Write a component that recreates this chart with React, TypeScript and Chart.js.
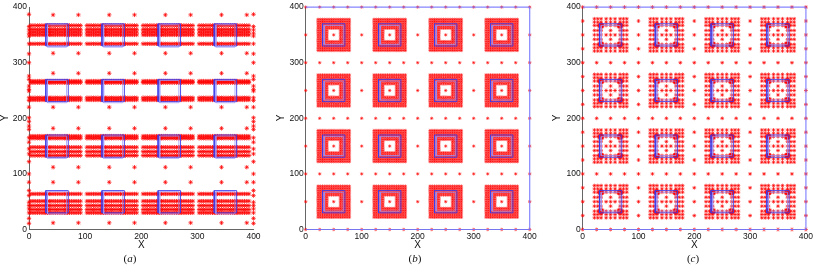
import React, { useEffect, useRef } from "react";
import { Chart, registerables } from "chart.js";
Chart.register(...registerables);

type P = { x: number; y: number };

// ---------- shared axis data ----------
const AXIS_TICKS = [0, 100, 200, 300, 400];
const CELL_ORIGINS = [0, 100, 200, 300];
const BORDER_LINES = [0, 100, 200, 300, 400];
const BORDER_STEP25 = [0, 25, 50, 75, 100, 125, 150, 175, 200, 225, 250, 275, 300, 325, 350, 375, 400];
const BORDER_STEP50 = [0, 50, 100, 150, 200, 250, 300, 350, 400];

// ---------- panel (a) mesh nodes (relative to each 100x100 cell) ----------
const A_DENSE_X = [3, 7, 11, 15, 19, 23, 27, 30, 33, 36, 39, 43, 47, 51, 55, 59, 63, 66, 69, 72, 76, 80, 84, 88, 92];
const A_DENSE_Y_BAND0 = [30, 36, 43, 51, 64];
const A_DENSE_Y_BAND1 = [33, 40, 48, 64, 68];
const A_DENSE_Y_BAND2 = [33, 37, 64, 67];
const A_DENSE_Y_BAND3 = [34, 50, 55, 60, 67];
const A_SPARSE_X = [43, 88];
const A_SPARSE_Y_BAND0 = [12, 85];
const A_SPARSE_Y_BAND1 = [12, 82];
const A_SPARSE_Y_BAND2 = [20, 81];
const A_SPARSE_Y_BAND3 = [17, 86];
const A_EDGE_X = [0, 400];
const A_EDGE_Y = [11, 20, 30, 37, 43, 49, 61, 70, 85, 100, 122, 136, 145, 157, 165, 180, 186, 194, 201, 220, 232, 237, 249, 252, 258, 270, 276, 300, 316, 334, 348, 353, 359, 365, 387];
const A_SQ_DARK = [30, 70, 30, 70];
const A_SQ_LIGHT = [33, 67, 28, 68];

// ---------- panel (b) ----------
const B_RING = [22, 26, 30, 34, 38, 42, 46, 50, 54, 58, 62, 66, 70, 74, 78];
const B_HOLE = [40, 60];
const B_CENTER = [50, 50];
const B_SQ_DARK = [30, 70, 30, 70];
const B_SQ_LIGHT = [33, 67, 33, 67];

// ---------- panel (c) ----------
const C_GRID = [21, 27, 33, 42, 50, 58, 67, 73, 79];
const C_INNER = [42, 58];
const C_CORNERS = [33, 67];
const C_BLOB = [-2.5, -1, 0.5, 2];
const C_SQ_DARK = [30, 70, 30, 70];
const C_SQ_LIGHT = [33, 67, 33, 67];

const BLUE_DARK = "rgba(60,60,235,0.9)";
const BLUE_LIGHT = "rgba(150,150,255,0.75)";
const BLUE_FRAME = "rgba(120,120,255,0.9)";

function buildA(): P[] {
  const pts: P[] = [];
  const denseY = [A_DENSE_Y_BAND0, A_DENSE_Y_BAND1, A_DENSE_Y_BAND2, A_DENSE_Y_BAND3];
  const sparseY = [A_SPARSE_Y_BAND0, A_SPARSE_Y_BAND1, A_SPARSE_Y_BAND2, A_SPARSE_Y_BAND3];
  CELL_ORIGINS.forEach((oy, b) => {
    CELL_ORIGINS.forEach((ox) => {
      denseY[b].forEach((y) => A_DENSE_X.forEach((x) => pts.push({ x: ox + x, y: oy + y })));
      sparseY[b].forEach((y) => A_SPARSE_X.forEach((x) => pts.push({ x: ox + x, y: oy + y })));
    });
  });
  A_EDGE_X.forEach((x) => A_EDGE_Y.forEach((y) => pts.push({ x, y })));
  return pts;
}

function buildB(): P[] {
  const pts: P[] = [];
  const inHole = (v: number) => v > B_HOLE[0] && v < B_HOLE[1];
  CELL_ORIGINS.forEach((oy) =>
    CELL_ORIGINS.forEach((ox) => {
      B_RING.forEach((y) =>
        B_RING.forEach((x) => {
          if (!(inHole(x) && inHole(y))) pts.push({ x: ox + x, y: oy + y });
        })
      );
      pts.push({ x: ox + B_CENTER[0], y: oy + B_CENTER[1] });
    })
  );
  BORDER_LINES.forEach((y) => BORDER_STEP25.forEach((x) => pts.push({ x, y })));
  BORDER_LINES.forEach((x) =>
    BORDER_STEP50.forEach((y) => {
      if (!BORDER_LINES.includes(y)) pts.push({ x, y });
    })
  );
  return pts;
}

function buildC(): P[] {
  const pts: P[] = [];
  const inner = (v: number) => v >= C_INNER[0] && v <= C_INNER[1];
  CELL_ORIGINS.forEach((oy) =>
    CELL_ORIGINS.forEach((ox) => {
      C_GRID.forEach((y) =>
        C_GRID.forEach((x) => {
          if (inner(x) && inner(y) && x !== 50 && y !== 50) return;
          pts.push({ x: ox + x, y: oy + y });
        })
      );
      C_CORNERS.forEach((cy) =>
        C_CORNERS.forEach((cx) =>
          C_BLOB.forEach((dy) => C_BLOB.forEach((dx) => pts.push({ x: ox + cx + dx, y: oy + cy + dy })))
        )
      );
    })
  );
  BORDER_LINES.forEach((y) => BORDER_STEP25.forEach((x) => pts.push({ x, y })));
  BORDER_LINES.forEach((x) =>
    BORDER_STEP25.forEach((y) => {
      if (!BORDER_LINES.includes(y)) pts.push({ x, y });
    })
  );
  return pts;
}

function squareDatasets(sq: number[], color: string, width: number) {
  const out: any[] = [];
  CELL_ORIGINS.forEach((oy) =>
    CELL_ORIGINS.forEach((ox) => {
      const [x0, x1, y0, y1] = sq;
      out.push({
        data: [
          { x: ox + x0, y: oy + y0 },
          { x: ox + x1, y: oy + y0 },
          { x: ox + x1, y: oy + y1 },
          { x: ox + x0, y: oy + y1 },
          { x: ox + x0, y: oy + y0 },
        ],
        showLine: true,
        borderColor: color,
        borderWidth: width,
        pointRadius: 0,
        fill: false,
        tension: 0,
        order: 1,
        clip: false,
      });
    })
  );
  return out;
}

function frameDataset() {
  return {
    data: [
      { x: 0, y: 0 },
      { x: 400, y: 0 },
      { x: 400, y: 400 },
      { x: 0, y: 400 },
    ],
    showLine: true,
    borderColor: BLUE_FRAME,
    borderWidth: 1.2,
    pointRadius: 0,
    fill: false,
    tension: 0,
    order: 0,
    clip: false,
  };
}

interface PanelSpec {
  left: number;
  width: number;
  yAxisWidth: number;
  rightPad: number;
  yTitleX: number;
  points: () => P[];
  radius: number;
  red: string;
  dark: number[];
  light: number[];
  frame: boolean;
  caption: string;
  captionX: number;
}

const SANS = "'Liberation Sans', Arial, sans-serif";
const TICK_FONT = { family: SANS, size: 8.5 };
const TITLE_FONT = { family: SANS, size: 10, lineHeight: 1 };

function Panel({ spec }: { spec: PanelSpec }) {
  const ref = useRef<HTMLCanvasElement>(null);
  useEffect(() => {
    const datasets: any[] = [
      ...squareDatasets(spec.light, BLUE_LIGHT, 1),
      ...squareDatasets(spec.dark, BLUE_DARK, 1),
      {
        data: spec.points(),
        pointStyle: "star",
        pointRadius: spec.radius,
        borderColor: spec.red,
        backgroundColor: spec.red,
        borderWidth: 1,
        showLine: false,
        order: 2,
        clip: false,
      },
    ];
    if (spec.frame) datasets.push(frameDataset());
    const chart = new Chart(ref.current!, {
      type: "scatter",
      data: { datasets },
      options: {
        responsive: false,
        animation: false,
        events: [],
        layout: { padding: { left: 0, right: spec.rightPad, top: 5.5, bottom: 0 } },
        plugins: { legend: { display: false }, tooltip: { enabled: false } },
        scales: {
          x: {
            type: "linear",
            min: 0,
            max: 400,
            afterBuildTicks: (s: any) => {
              s.ticks = AXIS_TICKS.map((v) => ({ value: v }));
            },
            afterFit: (s: any) => {
              s.height = 38.5;
            },
            ticks: { font: TICK_FONT, color: "#111", padding: 2, maxRotation: 0, autoSkip: false },
            grid: { display: true, drawOnChartArea: false, drawTicks: false },
            border: { display: true, color: "#666", width: 1 },
            title: { display: true, text: "X", font: TITLE_FONT, color: "#111", padding: { top: 0, bottom: 17.5 } },
          },
          y: {
            type: "linear",
            min: 0,
            max: 400,
            afterBuildTicks: (s: any) => {
              s.ticks = AXIS_TICKS.map((v) => ({ value: v }));
            },
            afterFit: (s: any) => {
              s.width = spec.yAxisWidth;
            },
            ticks: { font: TICK_FONT, color: "#111", padding: 2, autoSkip: false },
            grid: { display: true, drawOnChartArea: false, drawTicks: false },
            border: { display: true, color: "#666", width: 1 },
            title: { display: false },
          },
        },
      } as any,
    });
    return () => chart.destroy();
  }, []);
  return (
    <>
      <canvas
        ref={ref}
        width={spec.width}
        height={268}
        style={{ position: "absolute", left: spec.left, top: 0, width: spec.width, height: 268 }}
      />
      <div
        style={{
          position: "absolute",
          left: spec.yTitleX - 10,
          top: 111.5,
          width: 20,
          height: 12,
          lineHeight: "12px",
          textAlign: "center",
          fontFamily: SANS,
          fontSize: 10,
          color: "#111",
          transform: "rotate(-90deg)",
        }}
      >
        Y
      </div>
      <div
        style={{
          position: "absolute",
          left: spec.captionX - 20,
          width: 40,
          top: 252,
          lineHeight: "13px",
          textAlign: "center",
          fontFamily: "'Liberation Serif', 'Times New Roman', serif",
          fontSize: 11,
          color: "#111",
        }}
      >
        (<i>{spec.caption}</i>)
      </div>
    </>
  );
}

const PANELS: PanelSpec[] = [
  { left: 0, width: 272, yAxisWidth: 29, rightPad: 18.5, yTitleX: 4.5, points: buildA, radius: 2.2, red: "rgba(255,0,0,0.72)", dark: A_SQ_DARK, light: A_SQ_LIGHT, frame: false, caption: "a", captionX: 130 },
  { left: 272, width: 273, yAxisWidth: 33.7, rightPad: 15.3, yTitleX: 281, points: buildB, radius: 1.7, red: "rgba(255,0,0,0.55)", dark: B_SQ_DARK, light: B_SQ_LIGHT, frame: true, caption: "b", captionX: 415 },
  { left: 545, width: 270, yAxisWidth: 37.7, rightPad: 7.7, yTitleX: 556.5, points: buildC, radius: 1.9, red: "rgba(255,0,0,0.65)", dark: C_SQ_DARK, light: C_SQ_LIGHT, frame: true, caption: "c", captionX: 693 },
];

export default function App() {
  return (
    <>
      <style>{"html,body{margin:0;padding:0;background:#fff;}"}</style>
      <div style={{ position: "relative", width: 815, height: 268, background: "#fff", overflow: "hidden" }}>
        {PANELS.map((p, i) => (
          <Panel key={i} spec={p} />
        ))}
      </div>
    </>
  );
}
